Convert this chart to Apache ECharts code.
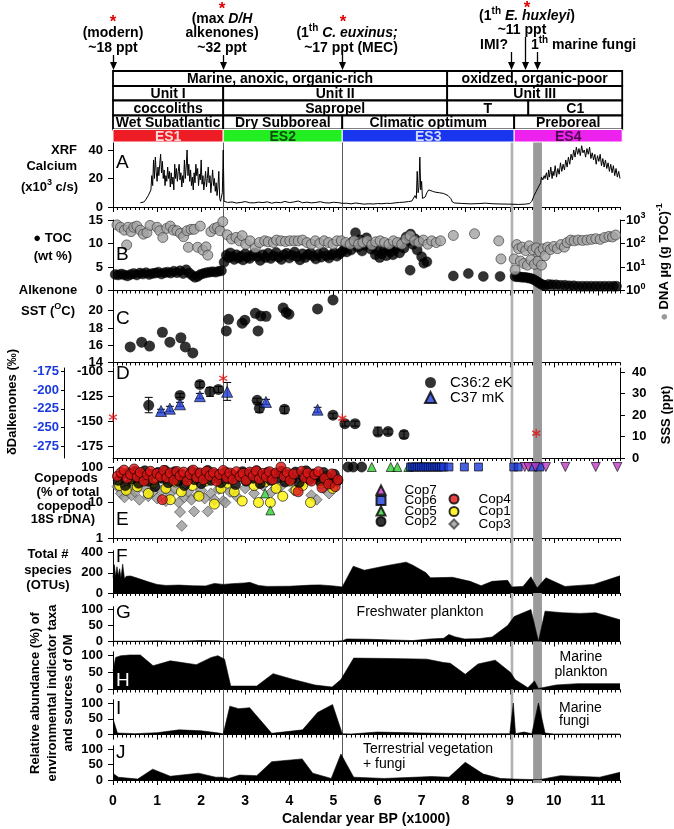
<!DOCTYPE html>
<html>
<head>
<meta charset="utf-8">
<script src="https://cdn.jsdelivr.net/npm/echarts@6/dist/echarts.min.js"></script>
<style>
html,body{margin:0;padding:0;background:#fff;}
#chart{width:674px;height:829px;}
</style>
</head>
<body>
<div id="chart"></div>
<script>
// ================= DATA =================
const xTicks = [0,1,2,3,4,5,6,7,8,9,10,11];

// A: XRF calcium (x10^3 c/s)
const calcium = [[0.62,3],[0.66,4],[0.7,3.5],[0.74,5],[0.78,6],[0.8,8],[0.83,7],[0.86,12],[0.88,22],[0.9,15],[0.92,33],[0.94,20],[0.96,35],[0.98,25],[1.0,18],[1.02,28],[1.04,22],[1.06,30],[1.08,37],[1.1,24],[1.12,32],[1.14,20],[1.16,26],[1.18,15],[1.2,22],[1.22,18],[1.24,28],[1.26,20],[1.28,25],[1.3,14],[1.32,24],[1.34,16],[1.36,21],[1.38,12],[1.4,30],[1.42,20],[1.44,27],[1.46,18],[1.48,25],[1.5,30],[1.52,19],[1.54,24],[1.56,14],[1.58,22],[1.6,17],[1.62,33],[1.64,20],[1.66,28],[1.68,40],[1.7,22],[1.72,30],[1.74,18],[1.76,26],[1.78,15],[1.8,21],[1.82,12],[1.84,24],[1.86,17],[1.88,30],[1.9,22],[1.92,27],[1.94,15],[1.96,23],[1.98,19],[2.0,33],[2.02,16],[2.04,22],[2.06,12],[2.08,18],[2.1,25],[2.12,14],[2.14,20],[2.16,28],[2.18,17],[2.2,22],[2.22,10],[2.24,18],[2.26,26],[2.28,15],[2.3,20],[2.32,11],[2.34,17],[2.36,8],[2.38,14],[2.4,25],[2.42,6],[2.44,4],[2.46,3],[2.48,10],[2.5,40],[2.52,4],[2.56,3],[2.6,3.2],[2.7,3.5],[2.8,2.8],[2.9,3.2],[3.0,3.8],[3.1,3.0],[3.2,2.9],[3.3,3.4],[3.4,3.1],[3.5,3.6],[3.6,2.7],[3.7,3.3],[3.8,3.0],[3.9,3.9],[4.0,3.1],[4.1,3.5],[4.2,4.2],[4.3,3.0],[4.4,3.4],[4.5,2.9],[4.6,3.2],[4.7,3.7],[4.8,3.0],[4.9,2.8],[5.0,3.3],[5.1,3.1],[5.2,2.6],[5.3,2.6],[5.4,2.2],[5.5,2.8],[5.6,2.4],[5.7,2.0],[5.8,2.3],[5.9,2.1],[6.0,2.4],[6.1,2.3],[6.2,2.6],[6.3,2.5],[6.4,2.9],[6.5,3.2],[6.6,3.4],[6.7,3.8],[6.78,4.2],[6.82,5],[6.85,8],[6.88,6],[6.9,25],[6.92,10],[6.94,14],[6.96,35],[6.98,12],[7.0,18],[7.02,6],[7.05,5],[7.08,7],[7.12,10],[7.16,12],[7.2,11.5],[7.25,11],[7.3,10.5],[7.4,10],[7.5,9.5],[7.6,8],[7.66,6],[7.7,3.5],[7.75,2.8],[7.9,2.5],[8.1,2.2],[8.3,2.4],[8.45,2.7],[8.6,2.3],[8.8,2.1],[9.0,2.0],[9.2,1.8],[9.35,2.0],[9.45,2.4],[9.5,4],[9.55,8],[9.6,11],[9.65,14],[9.7,17],[9.72,21],[9.75,19],[9.78,22],[9.8,20],[9.83,24],[9.86,19],[9.88,26],[9.9,21],[9.93,28],[9.96,20],[9.98,25],[10.0,22],[10.03,29],[10.06,21],[10.09,27],[10.12,23],[10.15,31],[10.18,25],[10.21,30],[10.24,26],[10.27,33],[10.3,28],[10.33,35],[10.36,30],[10.39,37],[10.42,33],[10.45,40],[10.48,35],[10.51,42],[10.54,37],[10.57,41],[10.6,36],[10.63,43],[10.66,38],[10.69,40],[10.72,35],[10.75,41],[10.78,37],[10.81,42],[10.84,34],[10.87,38],[10.9,33],[10.93,37],[10.96,30],[10.99,36],[11.02,32],[11.05,37],[11.08,29],[11.11,34],[11.14,28],[11.17,33],[11.2,27],[11.23,31],[11.26,25],[11.29,30],[11.32,24],[11.35,29],[11.38,22],[11.41,27],[11.44,21],[11.47,25],[11.5,20]];

// B: TOC (wt %)
const toc = [[0.05,3.4],[0.12,3.3],[0.19,3.5],[0.26,3.3],[0.33,3.1],[0.4,3.4],[0.47,3.6],[0.54,3.3],[0.61,3.7],[0.68,3.5],[0.75,3.8],[0.82,3.4],[0.89,3.6],[0.96,3.7],[1.03,3.9],[1.1,3.5],[1.17,3.8],[1.24,3.9],[1.31,3.7],[1.38,4.1],[1.45,3.8],[1.52,4.2],[1.59,3.6],[1.66,4.4],[1.73,3.7],[1.8,3.2],[1.86,2.8],[1.92,3.0],[1.98,3.4],[2.05,3.6],[2.12,3.8],[2.19,3.9],[2.26,4.0],[2.33,3.9],[2.4,4.1],[2.46,4.2],[2.52,6.0],
[2.57,7.5],[2.62,7.0],[2.66,8.0],[2.7,7.2],[2.75,6.6],[2.8,7.6],[2.85,6.9],[2.9,7.3],[2.95,6.5],[3.0,7.8],[3.05,7.1],[3.1,6.8],[3.16,7.5],[3.22,8.0],[3.28,7.2],[3.34,6.4],[3.4,7.6],[3.46,7.0],[3.52,7.9],[3.58,6.8],[3.64,7.4],[3.7,8.1],[3.76,7.1],[3.82,6.6],[3.88,7.6],[3.94,7.9],[4.0,6.9],[4.06,7.5],[4.12,8.2],[4.18,7.2],[4.24,6.5],[4.3,7.8],[4.36,7.0],[4.42,7.6],[4.48,8.0],[4.54,7.3],[4.6,6.7],[4.66,7.7],[4.72,7.1],[4.78,8.1],[4.84,7.4],[4.9,6.9],[4.96,7.6],[5.02,8.0],[5.08,7.3],[5.14,7.8],[5.2,8.3],
[5.26,9.0],[5.3,8.2],[5.35,9.8],[5.4,8.6],[5.45,10.5],[5.5,12.3],[5.55,9.2],[5.6,10.8],[5.65,8.4],[5.7,9.6],[5.75,11.2],[5.8,10.0],[5.85,8.8],[5.9,9.4],[5.95,7.6],[6.0,8.4],[6.05,7.0],[6.1,7.8],[6.15,8.6],[6.2,7.4],[6.25,9.0],[6.3,8.2],[6.35,7.6],[6.4,8.8],[6.45,9.6],[6.5,8.0],[6.55,10.2],[6.6,9.0],[6.65,11.4],[6.7,10.6],[6.74,4.3],[6.75,12.0],[6.8,9.8],[6.85,11.0],[6.9,8.6],[6.95,10.4],[7.0,7.2],[7.05,5.8],[7.12,6.1],
[7.72,3.1],[8.06,3.6],[8.4,3.0],[8.78,3.0],[9.12,3.0],[9.17,2.9],[9.22,2.9],[9.28,2.8],[9.34,2.8],[9.4,2.7],[9.45,2.6],[9.5,2.5],[9.55,2.3],[9.6,2.0],[9.65,1.7],[9.7,1.4],[9.75,1.2],[9.8,1.0],[9.88,1.3],[9.96,1.2],[10.05,1.2],[10.15,1.1],[10.25,1.1],[10.35,1.0],[10.45,1.0],[10.55,0.9],[10.65,0.9],[10.75,0.9],[10.85,0.9],[10.95,0.9],[11.05,0.9],[11.15,0.9],[11.25,0.9],[11.35,0.9],[11.42,0.9]];

// B: DNA ug (g TOC)^-1
const dna = [[0.09,620],[0.17,490],[0.26,370],[0.31,87],[0.34,490],[0.41,320],[0.47,490],[0.54,550],[0.62,370],[0.69,250],[0.77,290],[0.84,590],[0.92,1070],[1.0,490],[1.06,350],[1.13,180],[1.22,440],[1.3,550],[1.37,370],[1.45,350],[1.53,270],[1.6,195],[1.68,350],[1.71,69],[1.77,400],[1.84,400],[1.92,69],[1.98,550],[2.04,52],[2.11,72],[2.15,32],[2.22,320],[2.3,440],[2.37,490],[2.43,350],[2.49,850],
[2.59,234],[2.69,155],[2.79,182],[2.87,130],[2.93,215],[3.01,93],[3.11,130],[3.23,66],[3.32,110],[3.44,130],[3.52,118],[3.64,110],[3.71,140],[3.81,130],[3.91,122],[4.01,130],[4.11,130],[4.2,130],[4.3,140],[4.4,110],[4.5,93],[4.59,130],[4.69,100],[4.79,130],[4.89,110],[4.99,93],[5.08,130],[5.18,130],[5.28,110],[5.38,93],[5.47,130],[5.57,93],[5.67,110],[5.77,130],[5.87,87],[5.96,118],[6.06,130],[6.16,110],[6.26,93],[6.36,130],[6.45,110],[6.55,93],[6.65,155],[6.74,215],[6.84,130],[6.94,110],[7.04,140],[7.14,93],[7.23,130],[7.33,110],[7.43,130],
[7.72,220],[8.2,260],[8.75,130],[8.8,22],
[9.1,22],[9.12,7.5],[9.16,90],[9.2,60],[9.24,18],[9.28,70],[9.32,14],[9.36,50],[9.4,12],[9.44,80],[9.48,20],[9.52,55],[9.56,13],[9.6,65],[9.64,18],[9.68,45],[9.72,12],[9.76,60],[9.8,30],[9.86,70],[9.92,55],[10.0,75],[10.08,60],[10.16,90],[10.24,70],[10.3,110],[10.38,140],[10.46,130],[10.55,140],[10.65,135],[10.75,140],[10.85,150],[10.95,160],[11.05,150],[11.15,180],[11.25,200],[11.33,190],[11.4,230]];

// C: Alkenone SST (degC)
const sst = [[0.39,15.8],[0.65,16.35],[0.83,15.9],[1.12,17.5],[1.29,16.35],[1.54,16.86],[1.64,15.8],[1.81,15.1],[2.57,17.65],[2.62,19.0],[2.93,18.55],[2.99,18.9],[3.23,19.7],[3.29,17.65],[3.35,19.4],[3.47,19.35],[3.86,20.3],[3.93,19.8],[3.99,19.6],[4.64,20.2],[4.99,21.25]];

// D: dD alkenones [year, value, low, high]
const dDC36 = [[0.81,-134,-126,-141.5],[1.52,-124,-122,-126],[1.97,-113,-110,-116],[2.2,-120,-116,-125],[2.39,-118,-115,-121],[3.27,-129,-127,-131],[3.32,-137,-133,-141],[3.89,-138,-135,-142],[4.99,-144,-142,-147],[5.26,-152.5,-150,-155],[5.49,-152.5,-150,-155],[6.01,-161,-156,-164],[6.24,-160.5,-158,-163],[6.6,-163.5,-160,-167]];
const dDC37 = [[1.09,-139.7,-138,-141.5],[1.29,-137.4,-135,-140],[1.52,-133,-131,-135],[1.97,-124.8,-122,-127],[2.59,-120.4,-111,-129],[3.47,-130.6,-128,-133],[4.64,-138.4,-136,-141]];
const sssStars = [[0,19],[2.5,37],[5.2,18.5],[9.6,11.5]];

// E: copepods (% of total copepod 18S rDNA)
const cop1 = [[0.15,30],[0.3,22],[0.45,40],[0.55,28],[0.68,45],[0.8,18],[0.92,35],[1.05,50],[1.2,25],[1.3,12],[1.42,38],[1.55,20],[1.68,45],[1.8,30],[1.95,15],[2.1,40],[2.3,9],[2.45,25],[2.6,35],[2.75,20],[2.93,11],[3.05,45],[3.2,30],[3.3,10],[3.45,38],[3.57,10],[3.7,25],[3.85,15],[4.0,40],[4.15,22],[4.3,30],[4.48,10],[4.6,48],[4.72,35],[4.85,55],[4.98,25],[5.08,40]];
const cop2 = [[0.12,42],[0.2,60],[0.28,30],[0.35,68],[0.42,45],[0.5,75],[0.58,35],[0.65,55],[0.72,78],[0.8,40],[0.88,62],[0.95,28],[1.02,70],[1.1,48],[1.18,80],[1.25,36],[1.33,58],[1.4,74],[1.48,40],[1.55,64],[1.62,30],[1.7,52],[1.78,76],[1.85,44],[1.92,68],[2.0,34],[2.08,58],[2.15,80],[2.22,42],[2.3,64],[2.38,50],[2.45,36],[2.55,72],[2.62,46],[2.7,62],[2.78,32],[2.86,56],[2.94,74],[3.02,40],[3.1,64],[3.18,48],[3.26,78],[3.34,34],[3.42,58],[3.5,70],[3.58,42],[3.66,64],[3.74,50],[3.82,76],[3.9,38],[3.98,62],[4.06,46],[4.14,72],[4.22,36],[4.3,56],[4.38,78],[4.46,44],[4.54,64],[4.62,52],[4.7,40],[4.78,70],[4.86,50],[4.94,34],[5.02,62],[5.1,42],[5.33,100],[5.45,100],[5.64,100]];
const cop3 = [[0.1,28],[0.18,18],[0.26,14],[0.34,24],[0.42,16],[0.5,20],[0.6,12],[0.7,26],[0.8,15],[0.9,20],[1.0,13],[1.1,22],[1.2,11],[1.3,18],[1.4,25],[1.49,10],[1.52,5.4],[1.56,2.2],[1.62,14],[1.7,20],[1.78,12],[1.84,5.6],[1.92,16],[2.0,22],[2.08,13],[2.15,5.6],[2.22,18],[2.3,12],[2.4,24],[2.5,11],[2.55,10],[2.65,20],[2.8,15],[3.0,25],[3.2,18],[3.4,30],[3.6,20],[3.8,28],[4.1,22],[4.3,35],[4.5,16],[4.62,12],[4.78,25],[4.9,18]];
const cop4 = [[0.1,55],[0.18,70],[0.25,82],[0.32,48],[0.4,62],[0.48,88],[0.55,52],[0.62,70],[0.7,40],[0.78,60],[0.85,76],[0.92,45],[1.0,66],[1.08,54],[1.12,12],[1.15,80],[1.22,50],[1.3,68],[1.38,42],[1.45,75],[1.52,56],[1.6,72],[1.68,40],[1.75,62],[1.82,82],[1.9,50],[1.98,68],[2.05,44],[2.12,76],[2.2,56],[2.28,70],[2.35,40],[2.42,62],[2.5,80],[2.58,50],[2.65,68],[2.72,44],[2.8,74],[2.88,54],[2.95,66],[3.02,42],[3.1,72],[3.18,56],[3.25,78],[3.32,46],[3.4,66],[3.48,52],[3.55,74],[3.62,44],[3.7,68],[3.81,100],[3.88,54],[3.95,70],[4.02,42],[4.1,64],[4.2,20],[4.28,76],[4.35,50],[4.42,68],[4.5,40],[4.58,62],[4.66,74],[4.74,26],[4.8,48],[4.89,33],[4.96,64],[5.04,28],[5.1,44]];
const cop5 = [[3.45,18],[3.57,6],[5.87,100],[6.3,100],[6.45,100],[6.7,100]];
const cop6 = [[6.75,100],[6.8,100],[6.85,100],[6.9,100],[6.95,100],[7.0,100],[7.05,100],[7.1,100],[7.15,100],[7.2,100],[7.25,100],[7.3,100],[7.35,100],[7.4,100],[7.45,100],[7.5,100],[7.62,100],[7.97,100],[8.29,100],[9.09,100],[9.19,100],[9.53,100],[9.68,100]];
const cop7 = [[9.34,100],[9.42,100],[9.58,100],[9.82,100],[10.26,100],[10.95,100],[11.44,100]];

// F: total # species (OTUs)
const otus = [[0,150],[0.03,280],[0.06,160],[0.09,260],[0.12,170],[0.15,240],[0.18,150],[0.22,285],[0.26,140],[0.3,165],[0.4,168],[0.6,140],[0.8,110],[1.0,85],[1.2,75],[1.5,78],[1.8,72],[2.1,70],[2.3,95],[2.5,85],[2.7,92],[3.0,100],[3.1,105],[3.3,75],[3.5,65],[4.0,67],[4.5,78],[4.7,80],[5.0,70],[5.2,60],[5.45,265],[5.7,225],[6.2,270],[6.65,305],[6.8,275],[7.1,200],[7.2,150],[7.7,155],[8.1,115],[8.35,72],[8.6,115],[8.95,125],[9.05,60],[9.3,65],[9.48,160],[9.62,50],[9.82,150],[10.25,65],[10.9,85],[11.5,170]];
// G-J: relative abundance (%)
const freshwater = [[0,1],[0.5,1],[1.0,2],[1.5,1],[2.0,3],[2.4,2],[2.5,0],[3.0,1],[4.0,1],[5.0,1],[5.2,2],[5.3,8],[5.8,7],[6.3,5],[6.8,3],[7.2,8],[7.5,10],[7.62,22],[7.75,15],[7.97,8],[8.3,9],[8.6,14],[8.95,50],[9.1,78],[9.48,100],[9.65,0],[9.8,95],[10.2,90],[10.6,88],[10.95,90],[11.5,68]];
const marinePlankton = [[0,54],[0.06,93],[0.18,98],[0.38,100],[0.62,100],[0.91,69],[1.3,83],[1.89,72],[2.23,93],[2.38,98],[2.53,88],[2.67,10],[3.26,10],[3.63,46],[4.09,29],[4.58,13],[4.97,7],[5.17,29],[5.46,91],[6.24,90],[7.12,88],[7.5,78],[7.65,76],[7.99,44],[8.28,74],[8.67,85],[9.02,49],[9.12,29],[9.41,5],[9.56,25],[9.65,3],[10.05,13],[10.54,17],[11.5,17]];
const marineFungi = [[0,50],[0.1,5],[0.5,3],[1.0,6],[1.5,15],[2.0,12],[2.4,5],[2.5,2],[2.65,90],[2.85,82],[3.1,85],[3.6,4],[4.3,15],[4.64,70],[4.98,95],[5.2,3],[5.4,2],[6.0,8],[7.0,5],[8.0,3],[9.0,3],[9.08,100],[9.13,3],[9.32,8],[9.5,3],[9.65,100],[9.8,5],[10.0,2],[11.5,2]];
const terrestrial = [[0,22],[0.12,9],[0.56,3],[0.9,35],[1.3,12],[1.94,22],[2.33,9],[2.48,9],[2.63,5],[2.87,16],[3.26,14],[3.6,59],[4.29,68],[4.53,22],[4.95,5],[5.17,84],[5.46,9],[6.15,5],[7.22,11],[7.62,9],[7.99,57],[8.4,19],[8.79,5],[9.08,3],[9.67,1],[10.15,14],[11.04,9],[11.5,25]];

// Header table: [row, startYear, endYear, label]
const headerCells = [[0,0,7.58,'Marine, anoxic, organic-rich'],[0,7.58,11.55,'oxidzed, organic-poor'],[1,0,2.5,'Unit I'],[1,2.5,7.58,'Unit II'],[1,7.58,11.55,'Unit III'],[2,0,2.5,'coccoliths'],[2,2.5,7.58,'Sapropel'],[2,7.58,9.42,'T'],[2,9.42,11.55,'C1'],[3,0,2.5,'Wet Subatlantic'],[3,2.5,5.2,'Dry Subboreal'],[3,5.2,9.1,'Climatic optimum'],[3,9.1,11.55,'Preboreal'],[4,0,2.5,'ES1'],[4,2.5,5.2,'ES2'],[4,5.2,9.1,'ES3'],[4,9.1,11.55,'ES4']];
const eventYears = [0, 2.5, 5.2, 9.03, 9.35, 9.62];
const eventLines = [2.5, 5.2];
const eventBands = [[9.02,9.08],[9.53,9.73]];

// ================= STYLE / LAYOUT =================
const SANS = "'Liberation Sans',Arial,Helvetica,sans-serif";
const PL = 113, PW = 507;
const headerRowEdges = [71, 86, 100.5, 115.5, 129.5, 142];
const esStyle = {ES1:['#ee1c24','#ffd8d8'],ES2:['#22ee22','#0b4d0b'],ES3:['#1a35ee','#d0d8ff'],ES4:['#ee22ee','#4d0b4d']};
const arrowTop = [55,55,55,52,37,52];
const panels = {A:[142,207],B:[220,290.5],C:[295.2,362.4],D:[368,458],E:[467,538],F:[551,593],G:[607,641.5],H:[652,689.5],I:[700,734.6],J:[746,780]};
const order = ['A','B','C','D','E','F','G','H','I','J'];

const grid=[], xAxis=[], yAxis=[], series=[];
grid.push({left:PL,width:PW,top:0,height:142});
xAxis.push({gridIndex:0,type:'value',min:0,max:11.5,show:false});
yAxis.push({gridIndex:0,type:'value',min:0,max:142,inverse:true,show:false});
grid.push({left:PL,width:PW,top:142,height:638});
xAxis.push({gridIndex:1,type:'value',min:0,max:11.5,show:false});
yAxis.push({gridIndex:1,type:'value',min:0,max:1,show:false});

const tenths=[]; for(let i=0;i<=115;i++) tenths.push(Math.round(i)/10);
const gi={}, xi={}, yi={};
const lblFont = {color:'#000',fontFamily:SANS,fontWeight:'bold',fontSize:13};
order.forEach(k=>{
  const g=grid.length; gi[k]=g;
  grid.push({left:PL,width:PW,top:panels[k][0],height:panels[k][1]-panels[k][0]});
  xi[k]=xAxis.length;
  xAxis.push({gridIndex:g,type:'value',min:0,max:11.5,position:'bottom',
    axisLine:{show:true,onZero:false,lineStyle:{color:'#000',width:1}},
    axisTick:{show:true,customValues:xTicks,length:5,lineStyle:{color:'#000'}},
    axisLabel:Object.assign({show:k==='J',customValues:xTicks,margin:14},lblFont,{fontSize:14}),
    splitLine:{show:false}});
  xAxis.push({gridIndex:g,type:'value',min:0,max:11.5,position:'bottom',
    axisLine:{show:false,onZero:false},
    axisTick:{show:true,customValues:tenths,length:3,lineStyle:{color:'#000'}},
    axisLabel:{show:false},splitLine:{show:false}});
});
function yLeft(k,min,max,ticks,opt){
  const o=opt||{};
  yAxis.push({gridIndex:gi[k],type:o.type||'value',logBase:10,min,max,position:o.position||'left',offset:o.offset||0,
    axisLine:{show:true,onZero:false,lineStyle:{color:'#000',width:1}},
    axisTick:Object.assign({show:true,length:o.tickLen||5,lineStyle:{color:'#000'}},ticks?{customValues:ticks}:{}),
    axisLabel:Object.assign({margin:o.margin||10},lblFont,o.label||{},ticks?{customValues:ticks}:{}),
    splitLine:{show:false}});
  return yAxis.length-1;
}
function yBorder(k){
  yAxis.push({gridIndex:gi[k],type:'value',min:0,max:1,position:'right',axisLine:{show:true,lineStyle:{color:'#000'}},axisTick:{show:false},axisLabel:{show:false},splitLine:{show:false}});
  return yAxis.length-1;
}
yi.A = yLeft('A',0,45.6,[0,20,40]);
yi.B = yLeft('B',0,15,[0,5,10,15]);
const supRich = {n:{fontFamily:SANS,fontWeight:'bold',fontSize:13,color:'#000'},s:{fontFamily:SANS,fontWeight:'bold',fontSize:9,color:'#000',padding:[0,0,8,0]}};
yi.Bdna = yLeft('B',1,1000,null,{type:'log',position:'right',margin:6,label:{formatter:v=>'{n|10}{s|'+Math.round(Math.log10(v))+'}',rich:supRich}});
yi.C = yLeft('C',14,21.8,[14,16,18,20]);
yi.D = yLeft('D',-187.1,-96.4,[-175,-150,-125,-100]);
yi.Dblue = yLeft('D',-291.1,-170.2,[-275,-250,-225,-200,-175],{offset:49,tickLen:3,margin:5,label:{color:'#1a3ae0'}});
yi.Dsss = yLeft('D',0,41.86,[0,10,20,30,40],{position:'right',margin:12});
yi.E = yLeft('E',1,100,null,{type:'log'});
yBorder('E');
yi.F = yLeft('F',0,415,[0,200,400]); yBorder('F');
yi.G = yLeft('G',0,108,[0,50,100]); yBorder('G');
yi.H = yLeft('H',0,108.7,[0,50,100]); yBorder('H');
yi.I = yLeft('I',0,109.5,[0,50,100]); yBorder('I');
yi.J = yLeft('J',0,109.7,[0,50,100]); yBorder('J');

// ---- header table ----
series.push({type:'custom',xAxisIndex:0,yAxisIndex:0,silent:true,z:5,
  data:headerCells.map(c=>[c[0],c[1],c[2]]),encode:{x:[1,2],y:0},
  renderItem:function(params,api){
    const row=api.value(0), lab=headerCells[params.dataIndex][3];
    const p0=api.coord([api.value(1),headerRowEdges[row]]), p1=api.coord([api.value(2),headerRowEdges[row+1]]);
    const es=esStyle[lab];
    const rect={type:'rect',shape:{x:p0[0],y:p0[1],width:p1[0]-p0[0],height:p1[1]-p0[1]},
      style:es?{fill:es[0],stroke:'#fff',lineWidth:1}:{fill:'#fff',stroke:'#000',lineWidth:1.8}};
    const t={type:'text',x:(p0[0]+p1[0])/2,y:(p0[1]+p1[1])/2+1,style:{text:lab,fill:es?es[1]:'#000',fontFamily:SANS,fontWeight:'bold',fontSize:14,align:'center',verticalAlign:'middle'}};
    return {type:'group',children:[rect,t]};
  }});
// ---- header arrows ----
series.push({type:'custom',xAxisIndex:0,yAxisIndex:0,silent:true,z:5,
  data:eventYears.map((x,i)=>[x,arrowTop[i],70]),encode:{x:0,y:[1,2]},
  renderItem:function(params,api){
    const p0=api.coord([api.value(0),api.value(1)]), p1=api.coord([api.value(0),api.value(2)]);
    const x=Math.round(p0[0])+0.5;
    return {type:'group',children:[
      {type:'line',shape:{x1:x,y1:p0[1],x2:x,y2:p1[1]-5},style:{stroke:'#000',lineWidth:1.3}},
      {type:'polygon',shape:{points:[[x-3.5,p1[1]-8],[x+3.5,p1[1]-8],[x,p1[1]]]},style:{fill:'#000'}}]};
  }});
// ---- event lines & bands ----
series.push({type:'custom',xAxisIndex:1,yAxisIndex:1,silent:true,z:1,
  data:eventLines.map(x=>[x,x,0.5,0]).concat(eventBands.map((b,i)=>[b[0],b[1],0.5,i+1])),encode:{x:[0,1],y:2},
  renderItem:function(params,api){
    const kind=api.value(3);
    const pT=api.coord([api.value(0),1]), pB=api.coord([api.value(1),0]);
    if(kind===0){const x=Math.round(pT[0])+0.5;return {type:'line',shape:{x1:x,y1:pT[1],x2:x,y2:pB[1]},style:{stroke:'#5a5a5a',lineWidth:1}};}
    return {type:'rect',shape:{x:pT[0],y:pT[1],width:pB[0]-pT[0],height:pB[1]-pT[1]+(kind===2?3:0)},style:{fill:kind===1?'#b2b2b2':'#9a9a9a'}};
  }});

// ---- panel A ----
series.push({type:'line',xAxisIndex:xi.A,yAxisIndex:yi.A,data:calcium,symbol:'none',silent:true,lineStyle:{color:'#000',width:1},z:3});
// ---- panel B ----
series.push({type:'scatter',name:'TOC',xAxisIndex:xi.B,yAxisIndex:yi.B,data:toc,symbolSize:10,silent:true,itemStyle:{color:'#000',borderColor:'#000',borderWidth:0.5},z:3});
series.push({type:'scatter',name:'DNA',xAxisIndex:xi.B,yAxisIndex:yi.Bdna,data:dna,symbolSize:10,silent:true,itemStyle:{color:'#a3a3a3',borderColor:'#333',borderWidth:0.8},z:4});
// ---- panel C ----
series.push({type:'scatter',name:'SST',xAxisIndex:xi.C,yAxisIndex:yi.C,data:sst,symbolSize:11,silent:true,itemStyle:{color:'#000'},z:3});
// ---- panel D ----
series.push({type:'custom',xAxisIndex:xi.D,yAxisIndex:yi.D,silent:true,z:3,
  data:dDC36.concat(dDC37).map(d=>[d[0],d[2],d[3]]),encode:{x:0,y:[1,2]},
  renderItem:function(params,api){
    const pL=api.coord([api.value(0),api.value(1)]), pH=api.coord([api.value(0),api.value(2)]);
    const x=pL[0], w=4, st={stroke:'#000',lineWidth:1};
    return {type:'group',children:[
      {type:'line',shape:{x1:x,y1:pL[1],x2:x,y2:pH[1]},style:st},
      {type:'line',shape:{x1:x-w,y1:pL[1],x2:x+w,y2:pL[1]},style:st},
      {type:'line',shape:{x1:x-w,y1:pH[1],x2:x+w,y2:pH[1]},style:st}]};
  }});
series.push({type:'scatter',name:'C36:2 eK',xAxisIndex:xi.D,yAxisIndex:yi.D,data:dDC36.map(d=>[d[0],d[1]]),symbolSize:11,silent:true,itemStyle:{color:'#000'},z:4});
series.push({type:'scatter',name:'C37 mK',xAxisIndex:xi.D,yAxisIndex:yi.D,data:dDC37.map(d=>[d[0],d[1]]),symbol:'triangle',symbolSize:11,silent:true,itemStyle:{color:'#1f3fd6',borderColor:'#000',borderWidth:0.8},z:4});
series.push({type:'scatter',name:'stars',xAxisIndex:xi.D,yAxisIndex:yi.Dsss,data:sssStars,symbol:'path://M0,-6L0,6M-5.2,-3L5.2,3M-5.2,3L5.2,-3',symbolSize:[8,9],silent:true,itemStyle:{color:'transparent',borderColor:'#e01010',borderWidth:1.4},z:5});
// ---- panel E ----
const copStyle = {
  Cop3:{symbol:'diamond',size:11,color:'#9a9a9a',border:'#444'},
  Cop1:{symbol:'circle',size:10,color:'#fff200',border:'#000'},
  Cop2:{symbol:'circle',size:10,color:'#000',border:'#000'},
  Cop4:{symbol:'circle',size:10,color:'#e01515',border:'#000'},
  Cop5:{symbol:'triangle',size:9,color:'#2fd02f',border:'#000'},
  Cop6:{symbol:'rect',size:8,color:'#1a3ad6',border:'#000'},
  Cop7:{symbol:'triangle',size:9,color:'#c03cc8',border:'#000',rotate:180}
};
const copData = {Cop1:cop1,Cop2:cop2,Cop3:cop3,Cop4:cop4,Cop5:cop5,Cop6:cop6,Cop7:cop7};
['Cop3','Cop1','Cop2','Cop4','Cop5','Cop6','Cop7'].forEach(n=>{
  const s=copStyle[n];
  series.push({type:'scatter',name:n,xAxisIndex:xi.E,yAxisIndex:yi.E,data:copData[n],symbol:s.symbol,symbolRotate:s.rotate||0,symbolSize:s.size,silent:true,
    itemStyle:{color:s.color,borderColor:s.border,borderWidth:0.8},z:3});
});
// ---- panels F-J (areas) ----
[['F',otus],['G',freshwater],['H',marinePlankton],['I',marineFungi],['J',terrestrial]].forEach(([k,d])=>{
  series.push({type:'line',xAxisIndex:xi[k],yAxisIndex:yi[k],data:d,symbol:'none',silent:true,
    lineStyle:{color:'#000',width:0.6},areaStyle:{color:'#000',opacity:1},z:3});
});

// ================= TEXT =================
const G=[];
function T(x,y,text,st,el){
  G.push(Object.assign({type:'text',x,y,z:100,silent:true,
    style:Object.assign({text,fill:'#000',fontFamily:SANS,fontWeight:'bold',fontSize:13,align:'center',verticalAlign:'middle'},st||{})},el||{}));
}
function rich(sz){return {
  b:{fontFamily:SANS,fontWeight:'bold',fontSize:sz,fill:'#000',color:'#000'},
  bi:{fontFamily:SANS,fontWeight:'bold',fontStyle:'italic',fontSize:sz,fill:'#000',color:'#000'},
  s:{fontFamily:SANS,fontWeight:'bold',fontSize:Math.round(sz*0.7),fill:'#000',color:'#000',padding:[0,0,9,0]},
  g:{fontFamily:SANS,fontWeight:'bold',fontSize:sz,fill:'#9a9a9a',color:'#9a9a9a'},
  r:{fontFamily:SANS,fontWeight:'normal',fontSize:sz,fill:'#000',color:'#000'}
};}
const R14=rich(14), R13=rich(13);
const RED='#e00000';
// header annotations
T(113,22,'*',{fill:RED,fontSize:17});
T(113,33,'(modern)',{fontSize:14});
T(113,48,'~18 ppt',{fontSize:14});
T(222,9,'*',{fill:RED,fontSize:17});
T(222,19,'{b|(max }{bi|D/H}',{rich:R14});
T(222,33,'alkenones)',{fontSize:14});
T(222,48,'~32 ppt',{fontSize:14});
T(343,22,'*',{fill:RED,fontSize:17});
T(347,33,'{b|(1}{s|th}{bi| C. euxinus;}',{rich:R14});
T(351,48,'~17 ppt (MEC)',{fontSize:14});
T(527,8,'*',{fill:RED,fontSize:17});
T(527,16,'{b|(1}{s|th}{bi| E. huxleyi}{b|)}',{rich:R14});
T(522,30,'~11 ppt',{fontSize:14});
T(494,45,'IMI?',{fontSize:14});
T(531,45,'{b|1}{s|th}{b| marine fungi}',{rich:R14,align:'left'});
// left titles
T(77,150,'XRF',{align:'right'});
T(77,166,'Calcium',{align:'right'});
T(78,187,'{b|(x10}{s|3}{b| c/s)}',{rich:R13,align:'right'});
T(72,238,'{b|● TOC}',{rich:R13,align:'right'});
T(72,256,'(wt %)',{align:'right'});
T(48,290,'Alkenone');
T(48,311,'{b|SST (}{s|O}{b|C)}',{rich:R13});
T(66,478,'Copepods');
T(68,492,'(% of total');
T(64,506,'copepod');
T(63,519,'18S rDNA)');
T(48,554,'Total #');
T(48,570,'species');
T(48,585,'(OTUs)');
T(12,402,'δDalkenones (‰)',{},{rotation:Math.PI/2});
T(666,415,'SSS (ppt)',{},{rotation:Math.PI/2});
T(664,262,'{g|●}{b| DNA µg (g TOC)}{s|-1}',{rich:R13},{rotation:Math.PI/2});
T(35.5,693,'Relative abundance (%) of',{},{rotation:Math.PI/2});
T(52,693,'environmental indicator taxa',{},{rotation:Math.PI/2});
T(68,693,'and sources of OM',{},{rotation:Math.PI/2});
T(366,819,'Calendar year BP (x1000)',{fontSize:14});
// panel letters
[['A',162.5],['B',255],['C',319],['D',374],['E',519.5],['F',557],['G',613],['H',681],['I',709],['J',753]].forEach(([l,y])=>{
  T(116,y,l,{align:'left',fontWeight:'normal',fontSize:19,fill:l==='H'?'#fff':'#000'});
});
// in-panel annotations
T(420,612,'Freshwater plankton',{fontWeight:'normal',fontSize:14});
T(581,657,'Marine',{fontWeight:'normal',fontSize:14});
T(581,672,'plankton',{fontWeight:'normal',fontSize:14});
T(559,708,'Marine',{fontWeight:'normal',fontSize:14,align:'left'});
T(559,721,'fungi',{fontWeight:'normal',fontSize:14,align:'left'});
T(363,749,'Terrestrial vegetation',{fontWeight:'normal',fontSize:14,align:'left'});
T(363,764,'+ fungi',{fontWeight:'normal',fontSize:14,align:'left'});

const legText = {fontFamily:SANS,color:'#000'};
const option = {
  animation:false,
  backgroundColor:'#fff',
  textStyle:{fontFamily:SANS},
  grid, xAxis, yAxis, series,
  legend:[
    {left:419,top:370,orient:'vertical',selectedMode:false,itemWidth:11,itemHeight:11,itemGap:0,
     data:['C36:2 eK','C37 mK'],textStyle:Object.assign({fontSize:15,padding:[0,0,0,9]},legText)},
    {left:370.5,top:478,orient:'vertical',selectedMode:false,itemWidth:9,itemHeight:9,itemGap:-3.5,
     data:['Cop7','Cop6','Cop5','Cop2'],textStyle:Object.assign({fontSize:13.5,padding:[0,0,0,14]},legText)},
    {left:443.5,top:487,orient:'vertical',selectedMode:false,itemWidth:9,itemHeight:9,itemGap:-1.5,
     data:['Cop4','Cop1','Cop3'],textStyle:Object.assign({fontSize:13.5,padding:[0,0,0,15]},legText)}
  ],
  graphic:G
};
const chart = echarts.init(document.getElementById('chart'),null,{renderer:'canvas'});
chart.setOption(option);
</script>
</body>
</html>
